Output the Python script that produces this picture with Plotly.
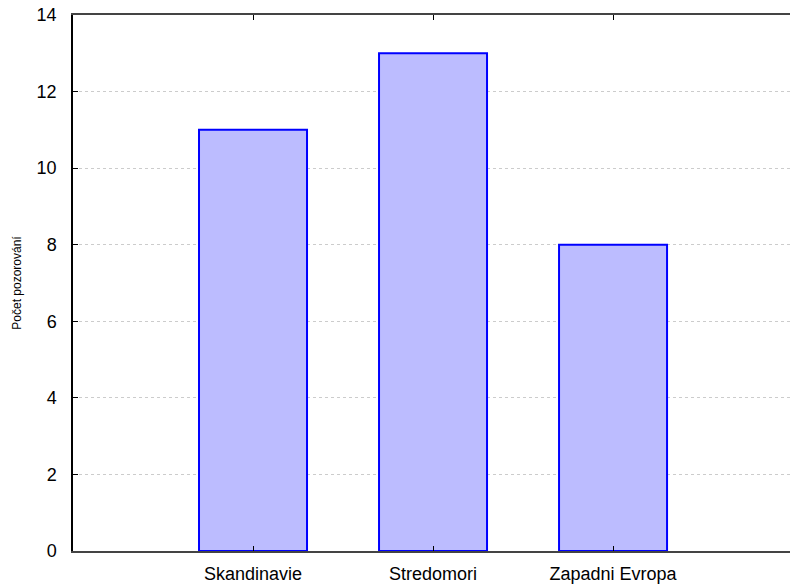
import plotly.graph_objects as go

categories = ["Skandinavie", "Stredomori", "Zapadni Evropa"]
counts = [11, 13, 8]
y_ticks = [0, 2, 4, 6, 8, 10, 12, 14]

fig = go.Figure()
fig.add_trace(go.Bar(
    x=categories, y=counts, width=0.6,
    marker=dict(color="#bcbcff", line=dict(color="#0000ff", width=2)),
))

fig.update_layout(
    width=790, height=587,
    margin=dict(l=73, r=0, t=15, b=36, autoexpand=False),
    plot_bgcolor="white", paper_bgcolor="white",
    font=dict(family="Liberation Sans, Arial, sans-serif", color="black"),
    showlegend=False,
    bargap=0.4,
)
fig.update_xaxes(
    type="category", range=[-1, 2.983], automargin=False,
    showline=True, linecolor="#444444", linewidth=1.5, mirror="ticks",
    ticks="inside", ticklen=5, tickcolor="black",
    showgrid=False, tickfont=dict(size=18), ticklabelstandoff=6,
    ticklabeloverflow="allow",
)
fig.update_yaxes(
    range=[0, 14], tickvals=y_ticks, automargin=False,
    showline=True, linecolor="black", linewidth=1.5,
    ticks="inside", ticklen=5, tickcolor="black",
    showgrid=True, gridcolor="#cccccc", griddash="dot", gridwidth=1,
    tickfont=dict(size=18), ticklabelstandoff=11, ticklabeloverflow="allow",
    title=dict(text="Počet pozorování", font=dict(size=12), standoff=12),
    zeroline=False,
)
fig.write_html(
    "out.html",
    config={"displayModeBar": False},
    post_script="document.body.style.margin='0';document.body.style.overflow='hidden';",
)
